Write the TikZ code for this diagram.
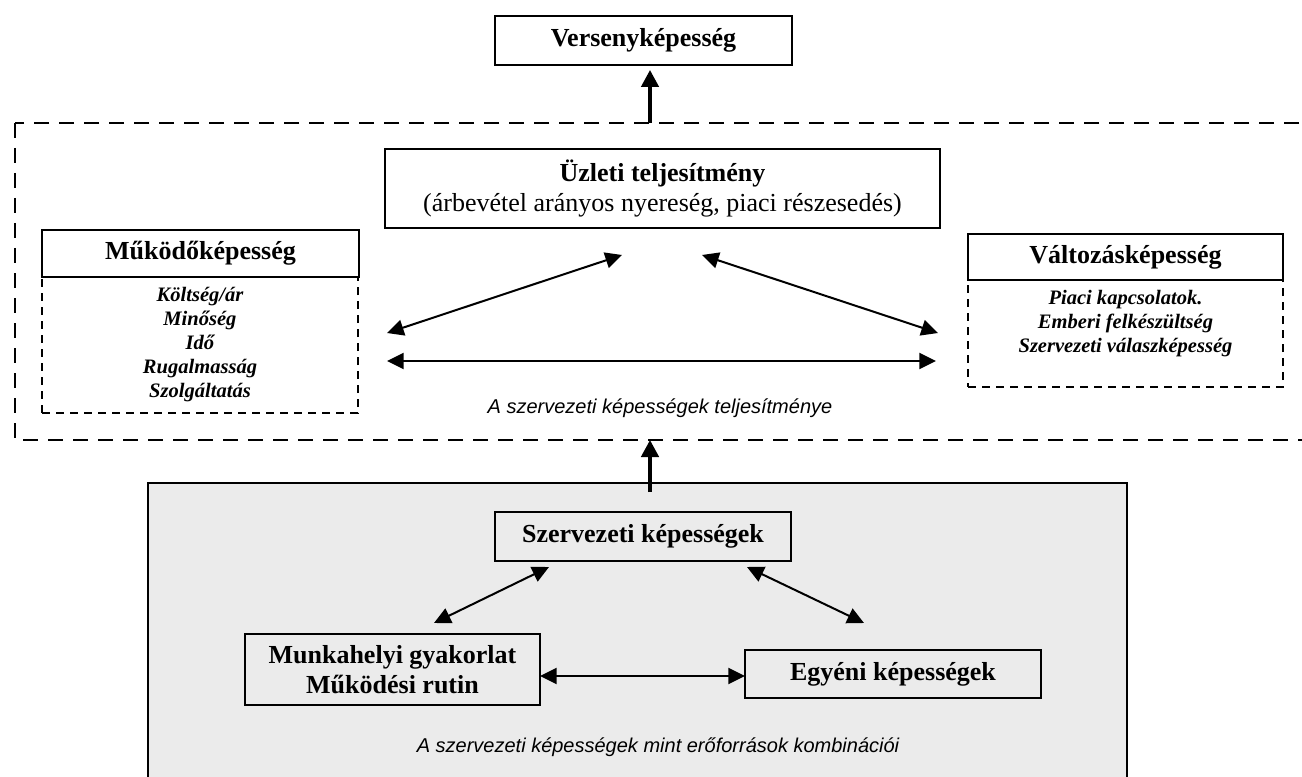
\documentclass[tikz,border=0pt]{standalone}
\usepackage{fontspec}
\setmainfont{Liberation Serif}
\newfontfamily\capfont{Liberation Sans}
\usetikzlibrary{arrows.meta}
\definecolor{panel}{HTML}{EBEBEB}
\tikzset{
  box/.style={draw, line width=1.5pt, inner sep=0pt, outer sep=0pt, align=center, fill=white,
    font=\fontsize{19.5}{22.5}\selectfont\bfseries},
  panelbox/.style={draw, line width=1.5pt, inner sep=0pt, outer sep=0pt, align=center,
    font=\fontsize{19.5}{22.5}\selectfont\bfseries},
  plainbox/.style={draw, line width=1.5pt, inner sep=0pt, outer sep=0pt, align=center, fill=white,
    font=\fontsize{19.5}{22.5}\selectfont},
  dashbox/.style={draw, line width=1.4pt, dash pattern=on 6pt off 4.5pt, inner sep=0pt, outer sep=0pt},
  itemtext/.style={font=\fontsize{15.4}{18}\selectfont\bfseries\itshape, align=center, inner sep=0pt},
  captext/.style={font=\capfont\itshape\fontsize{15}{18}\selectfont, inner sep=0pt},
  twoarr/.style={{Triangle[length=12.5pt,width=12pt]}-{Triangle[length=12.5pt,width=12pt]}, line width=1.5pt},
  bigarr/.style={-{Triangle[length=12.75pt,width=13pt]}, line width=2.6pt},
}
\begin{document}
\begin{tikzpicture}[x=0.75pt,y=-0.75pt]
\clip (0,0) rectangle (1302,777);
\useasboundingbox (0,0) rectangle (1302,777);

% grey panel
\draw[line width=1.5pt, fill=panel] (148,483) rectangle (1127,800);
% outer dashed frame (open beyond right edge)
\draw[line width=1.9pt, dash pattern=on 11.25pt off 7.5pt] (15,123) rectangle (1340,440);

% top
\node[box, minimum width=222.75pt, minimum height=36.75pt] (vers) at (643.5,40.5) {Versenyképesség};

% business performance
\node[plainbox, minimum width=416.25pt, minimum height=59.25pt] (uzleti) at (662.5,188.5)
  {\textbf{Üzleti teljesítmény}\\(árbevétel arányos nyereség, piaci részesedés)};

% left capability
\node[dashbox, minimum width=237pt, minimum height=102pt, itemtext] (muklist) at (200,345)
  {Költség/ár\\Minőség\\Idő\\Rugalmasság\\Szolgáltatás};
\node[box, minimum width=237.75pt, minimum height=35.25pt] (mukh) at (200.5,253.5) {Működőképesség};

% right capability
\node[dashbox, minimum width=236.25pt, minimum height=80.25pt] (vallist) at (1125.5,333.5) {};
\node[itemtext] (valtext) at (1125.5,324) {Piaci kapcsolatok.\\Emberi felkészültség\\Szervezeti válaszképesség};
\node[box, minimum width=236.25pt, minimum height=34.5pt] (valth) at (1125.5,257) {Változásképesség};

\node[captext] (cap1) at (660,408) {A szervezeti képességek teljesítménye};

% middle arrows
\coordinate (ul) at (622,255);
\coordinate (ur) at (702,255);
\coordinate (ml) at (387,333);
\coordinate (mr) at (938,333);
\coordinate (hl) at (387,361);
\coordinate (hr) at (936,361);
\draw[twoarr] (ml) -- (ul);
\draw[twoarr] (ur) -- (mr);
\draw[twoarr] (hl) -- (hr);

% vertical arrows
\coordinate (o1) at (650,123);
\coordinate (o2) at (650,440);
\coordinate (g1) at (650,492);
\draw[bigarr, shorten >=3.75pt] (o1) -- (o1 |- vers.south);
\draw[bigarr] (g1) -- (o2);

% lower panel
\node[panelbox, minimum width=222pt, minimum height=36.75pt] (szerv) at (643,536.5) {Szervezeti képességek};
\node[panelbox, minimum width=221.25pt, minimum height=53.25pt] (munk) at (392.5,669.5)
  {\raisebox{-3pt}{\shortstack{Munkahelyi gyakorlat\\[1pt]Működési rutin}}};
\node[panelbox, minimum width=222pt, minimum height=36pt] (egyeni) at (893,674) {Egyéni képességek};

\coordinate (sl) at (549,567);
\coordinate (sr) at (747,567);
\coordinate (bl) at (434,623);
\coordinate (br) at (864,623);
\draw[twoarr] (bl) -- (sl);
\draw[twoarr] (sr) -- (br);
\draw[twoarr] (munk.east |- 0,676) -- (egyeni.west |- 0,676);

\node[captext] (cap2) at (658,747) {A szervezeti képességek mint erőforrások kombinációi};
\end{tikzpicture}
\end{document}
